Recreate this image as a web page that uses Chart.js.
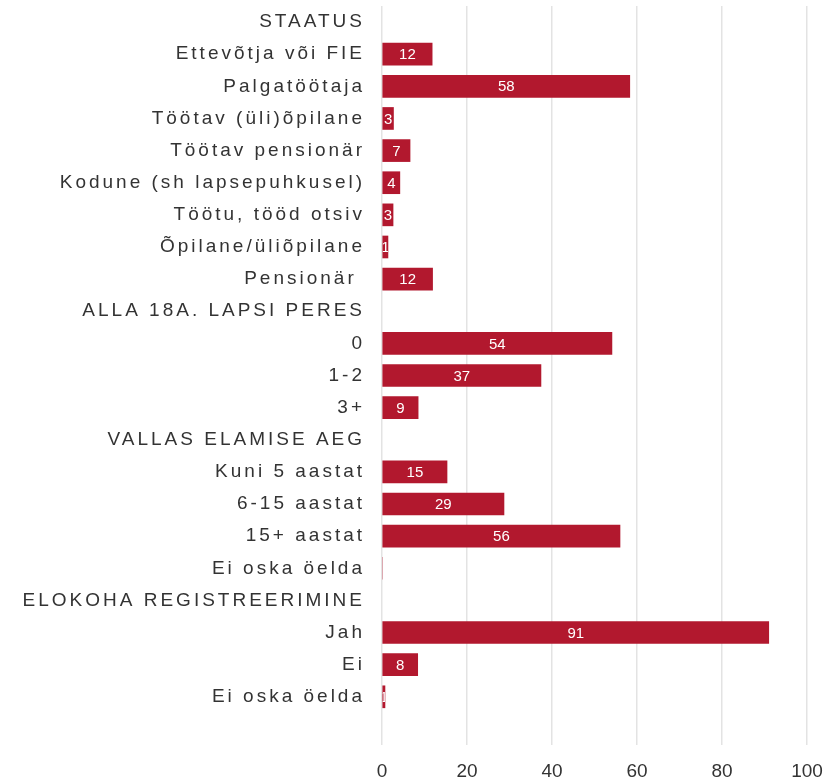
<!DOCTYPE html>
<html>
<head>
<meta charset="utf-8">
<script src="https://cdn.jsdelivr.net/npm/chart.js@4"></script>
<style>
  html, body { margin: 0; padding: 0; background: #fff; }
  #wrap { width: 829px; height: 780px; }
</style>
</head>
<body>
<div id="wrap"><canvas id="c"></canvas></div>
<script>
// kategooriad (pealkirjad ilma tulbata), viimane tühi rida jätab ruumi alla
const LABELS = [
  "STAATUS", "Ettevõtja või FIE", "Palgatöötaja", "Töötav (üli)õpilane", "Töötav pensionär",
  "Kodune (sh lapsepuhkusel)", "Töötu, tööd otsiv", "Õpilane/üliõpilane", "Pensionär ",
  "ALLA 18A. LAPSI PERES", "0", "1-2", "3+",
  "VALLAS ELAMISE AEG", "Kuni 5 aastat", "6-15 aastat", "15+ aastat", "Ei oska öelda",
  "ELOKOHA REGISTREERIMINE", "Jah", "Ei", "Ei oska öelda", ""
]
const VALUES = [
  null, 11.8, 58.3, 2.7, 6.6,
  4.2, 2.6, 1.4, 11.9,
  null, 54.1, 37.4, 8.5,
  null, 15.3, 28.7, 56.0, 0,
  null, 91.0, 8.4, 0.7, null
]
const X_TICKS = [0, 20, 40, 60, 80, 100]

const RED = "#b2182e"
const INK = "#333333"
const GRID = "#e3e3e3"
const FONT = "'Liberation Sans', Arial, sans-serif"

// y-telje siltidel on hõre tähevahe
const spacedLabels = {
  id: "spacedLabels",
  beforeDraw(chart) {
    const y = chart.scales.y
    if (y && !y._spaced) {
      const orig = y.drawLabels.bind(y)
      y.drawLabels = (area) => {
        const ctx = chart.ctx
        ctx.save()
        ctx.letterSpacing = "3px"
        orig(area)
        ctx.restore()
      }
      y._spaced = true
    }
  },
}

// väärtused tulpade sees, valged, tulbaga kärbitud
const barValues = {
  id: "barValues",
  afterDatasetsDraw(chart) {
    const ctx = chart.ctx
    const meta = chart.getDatasetMeta(0)
    meta.data.forEach((bar, i) => {
      const v = VALUES[i]
      if (v == null || v <= 0) return
      const { x, y, base, height } = bar.getProps(["x", "y", "base", "height"], true)
      ctx.save()
      ctx.beginPath()
      ctx.rect(base, y - height / 2, x - base, height)
      ctx.clip()
      ctx.fillStyle = "#ffffff"
      ctx.font = "15px " + FONT
      ctx.textAlign = "center"
      ctx.textBaseline = "middle"
      ctx.fillText(String(Math.round(v)), (x + base) / 2, y + 1)
      ctx.restore()
    })
  },
}

new Chart(document.getElementById("c"), {
  type: "bar",
  data: {
    labels: LABELS,
    datasets: [{ data: VALUES, backgroundColor: RED, barThickness: 22 }],
  },
  plugins: [spacedLabels, barValues],
  options: {
    responsive: true,
    maintainAspectRatio: false,
    animation: false,
    indexAxis: "y",
    layout: { padding: { top: 6, right: 22, bottom: 0, left: 0 } },
    plugins: { legend: { display: false }, tooltip: { enabled: false } },
    scales: {
      x: {
        min: 0,
        max: 100,
        afterBuildTicks: (s) => { s.ticks = X_TICKS.map((v) => ({ value: v })) },
        afterFit: (s) => { s.paddingLeft = 0; s.paddingRight = 0; s.height = 35 },
        grid: { color: GRID, lineWidth: 1.5, drawTicks: false },
        border: { display: false },
        ticks: { color: INK, font: { size: 19, family: FONT }, padding: 15 },
      },
      y: {
        afterFit: (s) => { s.width = 382; s.paddingTop = 0; s.paddingBottom = 0 },
        grid: { display: false, drawTicks: false },
        border: { display: false },
        ticks: { color: INK, font: { size: 19, family: FONT }, padding: 17, autoSkip: false },
      },
    },
  },
})
</script>
</body>
</html>
